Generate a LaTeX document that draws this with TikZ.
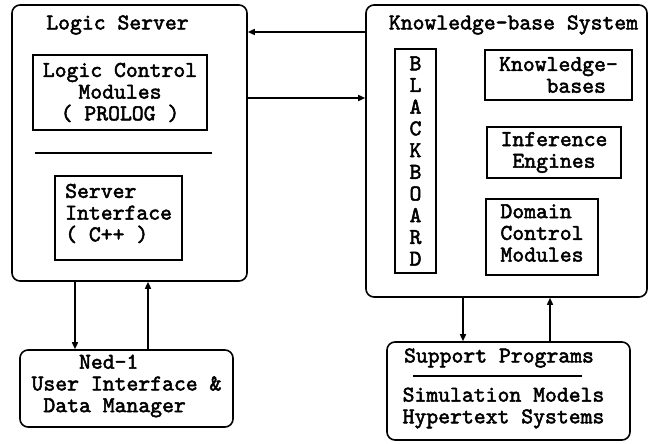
\documentclass[tikz,border=0pt]{standalone}
\usepackage{fontspec}
\newfontfamily\diagtt{lmmono10-regular}[Extension=.otf, FakeBold=2.2]
\usetikzlibrary{arrows.meta}
\newcommand{\diagfont}{\fontsize{22.6bp}{21.7bp}\selectfont\diagtt}
\begin{document}
\begin{tikzpicture}[x=1bp,y=-1bp,
  outer/.style={draw, line width=1.6bp, rounded corners=8bp, inner sep=0pt},
  inbox/.style={draw, line width=1.1bp, inner sep=0pt, font=\diagfont},
  txt/.style={font=\diagfont, inner sep=0pt},
  sep/.style={line width=1.1bp},
  arr/.style={line width=1.5bp, -{Triangle[length=7bp,width=6bp]}}]
\useasboundingbox (0,0) rectangle (649,444);
% outer boxes
\node[outer, minimum width=235bp, minimum height=276bp] (ls) at (129.5,143) {};
\node[outer, minimum width=281bp, minimum height=292bp] (kbs) at (506.5,151) {};
\node[outer, minimum width=213bp, minimum height=77bp] (ned) at (126.5,388.5) {};
\node[outer, minimum width=243bp, minimum height=98bp] (sp) at (508.5,391) {};
% titles
\node[txt] (lstitle) at (117.5,25) {Logic Server};
\node[txt] (kbstitle) at (513.5,25) {Knowledge-base System};
% logic server internals
\node[inbox, minimum width=174bp, minimum height=75bp, align=center] (lcm) at (120,92.5) {Logic Control\\Modules\\( PROLOG )};
\coordinate (s1a) at (35,153);
\coordinate (s1b) at (212,153);
\draw[sep] (s1a) -- (s1b);
\node[inbox, minimum width=127bp, minimum height=84bp] (si) at (118.5,218) {};
\node[txt, anchor=west, align=left] (sitext) at (65,213.5) {Server\\Interface\\( C++ )};
% knowledge-base internals
\node[inbox, minimum width=41bp, minimum height=224bp, align=center] (bb) at (415.5,161) {B\\L\\A\\C\\K\\B\\O\\A\\R\\D};
\node[inbox, minimum width=147bp, minimum height=50bp, align=left] (kb) at (558.5,75) {Knowledge-\\\phantom{xxxx}bases};
\node[inbox, minimum width=134bp, minimum height=51bp, align=center] (ie) at (554,152.5) {Inference\\Engines};
\node[inbox, minimum width=112bp, minimum height=76bp] (dcm) at (542,237) {};
\node[txt, align=left] (dcmtext) at (542,233) {Domain\\Control\\Modules};
% bottom texts
\node[txt, align=left] (nedtext) at (126.5,386) {\phantom{xxxx}Ned-1\\User Interface \&\\\phantom{x}Data Manager};
\node[txt] (sptitle) at (499,358) {Support Programs};
\coordinate (s2a) at (413,376);
\coordinate (s2b) at (582,376);
\draw[sep] (s2a) -- (s2b);
\node[txt, align=left] (sptext) at (503.5,408) {Simulation Models\\Hypertext Systems};
% connector guides
\coordinate (y1) at (0,32);
\coordinate (y2) at (0,98);
\coordinate (x1) at (75,0);
\coordinate (x2) at (148,0);
\coordinate (x3) at (463,0);
\coordinate (x4) at (550,0);
% connectors
\draw[arr] (kbs.west |- y1) -- (ls.east |- y1);
\draw[arr] (ls.east |- y2) -- (kbs.west |- y2);
\draw[arr] (ls.south -| x1) -- (ned.north -| x1);
\draw[arr] (ned.north -| x2) -- (ls.south -| x2);
\draw[arr] (kbs.south -| x3) -- (sp.north -| x3);
\draw[arr] (sp.north -| x4) -- (kbs.south -| x4);
\end{tikzpicture}
\end{document}
